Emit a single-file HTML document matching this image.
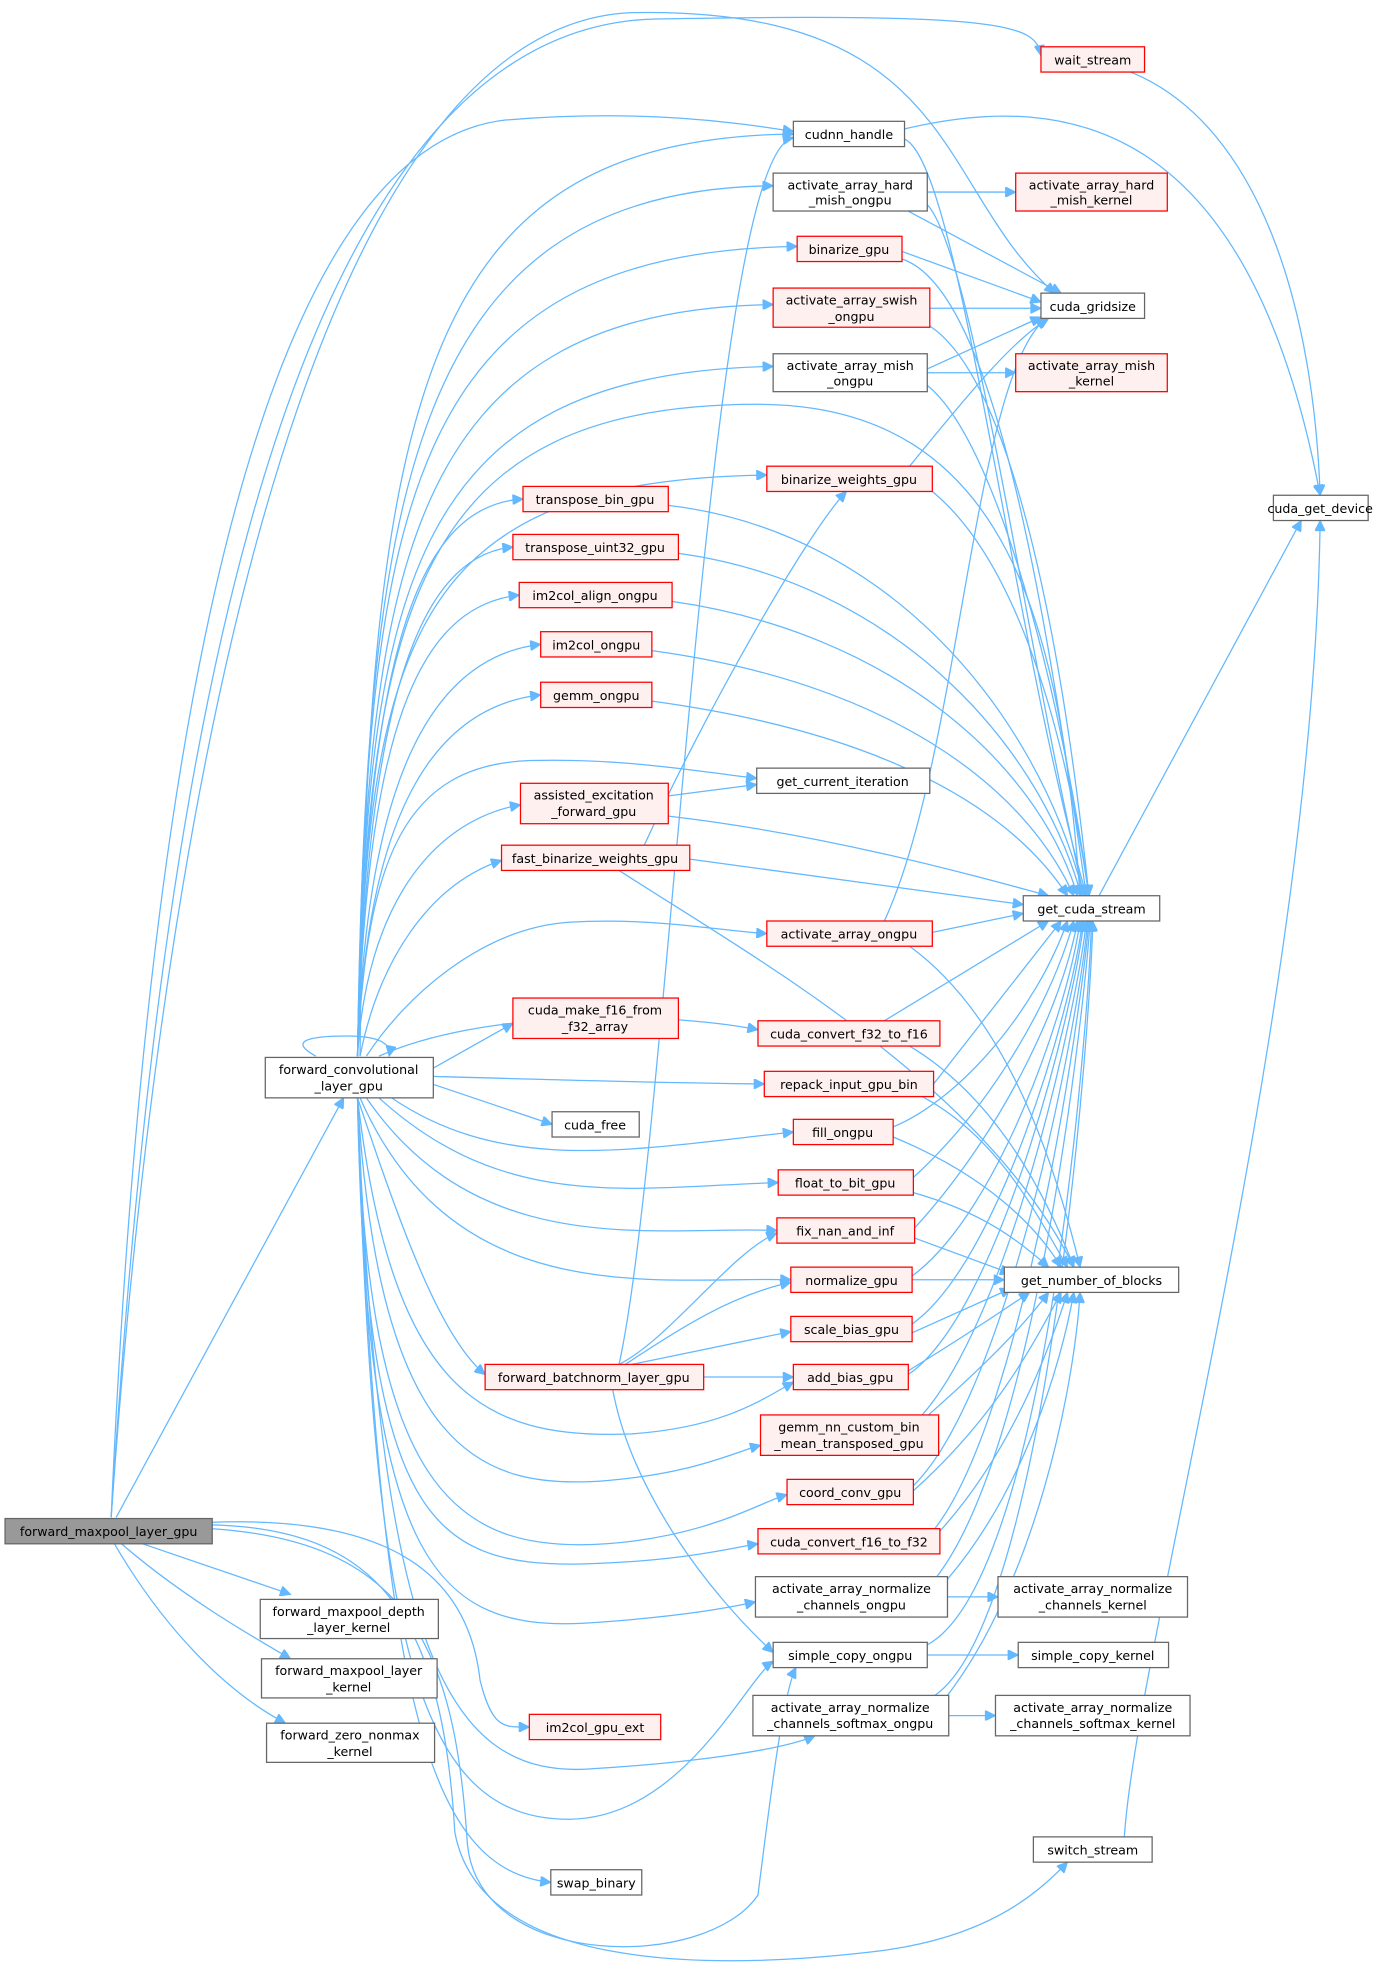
<!DOCTYPE html>
<html><head><meta charset="utf-8"><style>
html,body{margin:0;padding:0;background:#fff;}
svg{display:block}
text{font-family:"DejaVu Sans","Liberation Sans",sans-serif;font-size:10px;fill:#000;text-anchor:middle}
.n rect{fill:#fff;stroke:#666;stroke-width:1}
.r rect{fill:#fff0f0;stroke:#ff0000;stroke-width:1}
.g rect{fill:#999;stroke:#666;stroke-width:1}
path{fill:none;stroke:#63b8ff;stroke-width:1}
</style></head><body>
<svg width="1377" height="1986" viewBox="0 0 1090 1572" xmlns="http://www.w3.org/2000/svg">
<defs><marker id="a" viewBox="0 0 10 10" refX="10" refY="5" markerWidth="10" markerHeight="8" markerUnits="userSpaceOnUse" orient="auto"><path d="M0,0 L10,5 L0,10 z" style="fill:#63b8ff;stroke:#63b8ff"/></marker></defs>
<g marker-end="url(#a)">
<!-- maxpool edges -->
<path d="M88,1201 C120,700 200,20 520,15 C800,10 820,20 824,44"/>
<path d="M88,1201 C110,700 180,120 400,95 C520,85 600,100 628,104"/>
<path d="M88,1201 C130,600 250,20 500,10 C760,5 740,150 835,232"/>
<path d="M92,1201 L272,869"/>
<path d="M110,1221 L230,1262"/>
<path d="M95,1221 C140,1260 190,1290 230,1313"/>
<path d="M90,1221 C130,1290 180,1340 226,1364"/>
<path d="M167,1205 C300,1200 370,1240 380,1330 C390,1370 400,1367 419,1367"/>
<path d="M167,1207 C300,1210 350,1280 360,1450 C380,1560 560,1560 690,1545 C780,1535 820,1500 845,1474"/>
<path d="M167,1210 C320,1220 360,1300 370,1460 C380,1560 560,1560 600,1500 C610,1420 620,1340 630,1320"/>
<!-- FCL self loop -->
<path d="M250,836 C230,825 240,820 275,820 C300,820 310,826 308,836"/>
<!-- FCL to right nodes -->
<path d="M285,836 C290,300 340,110 628,106"/>
<path d="M283,836 C290,400 320,150 612,147"/>
<path d="M283,836 C290,400 320,200 631,195"/>
<path d="M283,836 C290,450 320,245 612,241"/>
<path d="M283,836 C290,470 320,295 612,290"/>
<path d="M283,836 C290,480 330,320 600,320 C800,320 840,500 855,709"/>
<path d="M283,836 C290,500 330,380 607,376"/>
<path d="M283,836 C290,550 320,400 414,395"/>
<path d="M283,836 C290,560 330,440 406,433"/>
<path d="M283,836 C290,580 330,480 411,471"/>
<path d="M283,836 C290,620 340,520 428,510"/>
<path d="M283,836 C290,650 340,560 428,550"/>
<path d="M283,836 C290,680 320,605 420,602 C500,600 560,612 599,616"/>
<path d="M283,836 C290,720 340,650 412,637"/>
<path d="M285,836 C300,760 340,700 397,681"/>
<path d="M290,836 C320,790 380,735 450,730 C520,726 570,737 607,739"/>
<path d="M300,836 C380,800 520,800 600,815"/>
<path d="M342,846 L406,810"/>
<path d="M342,852 C450,855 520,857 605,858"/>
<path d="M342,858 L437,890"/>
<path d="M310,869 C400,930 500,910 628,896"/>
<path d="M300,869 C400,960 500,940 616,936"/>
<path d="M290,869 C380,1000 520,970 615,974"/>
<path d="M285,869 C360,1040 520,1010 626,1013"/>
<path d="M283,869 C320,980 350,1060 384,1088"/>
<path d="M283,869 C310,1100 380,1140 500,1135 C570,1130 600,1110 628,1094"/>
<path d="M283,869 C300,1150 380,1180 480,1172 C550,1166 580,1150 602,1144"/>
<path d="M283,869 C290,1180 360,1230 480,1222 C560,1216 600,1190 623,1183"/>
<path d="M283,869 C290,1200 340,1240 460,1238 C540,1236 580,1225 600,1222"/>
<path d="M283,869 C290,1230 340,1290 460,1285 C540,1280 580,1272 598,1268"/>
<path d="M283,869 C300,1300 350,1410 470,1400 C550,1395 620,1385 645,1374"/>
<path d="M283,869 C295,1300 330,1440 450,1440 C540,1440 590,1330 612,1315"/>
<path d="M283,869 C300,1350 340,1480 436,1490"/>
<!-- batchnorm -->
<path d="M490,1080 C530,900 560,120 628,109"/>
<path d="M490,1080 C530,1060 580,990 615,976"/>
<path d="M495,1080 C540,1050 580,1025 626,1015"/>
<path d="M500,1080 L626,1054"/>
<path d="M557,1090 L628,1090"/>
<path d="M485,1100 C500,1180 560,1260 612,1308"/>
<path d="M510,669 C560,560 640,420 670,389"/>
<!-- to kernels -->
<path d="M734,152 L804,152"/>
<path d="M734,295 L804,295"/>
<path d="M750,1264 L790,1264"/>
<path d="M734,1310 L806,1310"/>
<path d="M751,1358 L788,1358"/>
<!-- to cuda_gridsize -->
<path d="M714,199 L824,239"/>
<path d="M736,244 L824,244"/>
<path d="M734,292 L824,251"/>
<path d="M720,369 C760,320 800,270 830,252"/>
<path d="M700,729 C760,600 770,300 828,252"/>
<path d="M715,165 L840,232"/>
<!-- cuda_get_device -->
<path d="M716,102 C850,70 990,100 1045,392"/>
<path d="M895,57 C1000,100 1040,250 1045,392"/>
<path d="M870,709 L1030,412"/>
<path d="M890,1454 C900,1300 1040,800 1045,412"/>
<!-- to get_cuda_stream -->
<path d="M716,110 C760,130 800,500 860,709"/>
<path d="M734,162 C770,200 810,500 858,709"/>
<path d="M714,205 C790,230 830,500 860,709"/>
<path d="M736,258 C800,300 840,500 862,709"/>
<path d="M734,305 C790,350 840,550 862,709"/>
<path d="M738,389 C800,440 840,560 862,709"/>
<path d="M529,400 C700,420 820,560 858,709"/>
<path d="M537,438 C700,460 820,580 856,709"/>
<path d="M532,476 C700,500 820,600 853,709"/>
<path d="M516,515 C700,540 810,620 850,709"/>
<path d="M516,555 C700,580 800,640 845,709"/>
<path d="M529,646 C650,660 760,690 830,709"/>
<path d="M546,680 L810,716"/>
<path d="M738,738 L810,723"/>
<path d="M700,808 L830,729"/>
<path d="M739,858 L840,729"/>
<path d="M707,892 C760,870 820,800 845,729"/>
<path d="M723,932 C780,880 830,800 850,729"/>
<path d="M724,972 C790,900 840,800 853,729"/>
<path d="M722,1010 C790,960 845,800 855,729"/>
<path d="M722,1048 C790,1000 848,800 857,729"/>
<path d="M719,1088 C790,1040 850,800 858,729"/>
<path d="M730,1120 C800,1040 852,800 860,729"/>
<path d="M723,1176 C800,1100 855,800 861,729"/>
<path d="M740,1210 C810,1120 856,800 862,729"/>
<path d="M740,1250 C820,1150 858,800 863,729"/>
<path d="M734,1302 C830,1250 862,800 864,729"/>
<path d="M740,1342 C830,1280 864,800 865,729"/>
<!-- to get_number_of_blocks -->
<path d="M490,689 C600,760 780,860 850,1003"/>
<path d="M720,749 C790,800 830,900 855,1003"/>
<path d="M720,828 C790,870 830,950 850,1003"/>
<path d="M730,868 C790,900 820,960 845,1003"/>
<path d="M707,900 C780,930 820,970 840,1003"/>
<path d="M723,944 C780,960 810,985 830,1003"/>
<path d="M724,980 L800,1008"/>
<path d="M722,1013 L795,1013"/>
<path d="M722,1055 L800,1020"/>
<path d="M719,1085 C760,1060 790,1040 815,1023"/>
<path d="M735,1120 C780,1080 810,1050 830,1023"/>
<path d="M723,1180 C790,1120 820,1060 840,1023"/>
<path d="M744,1212 C800,1150 830,1070 845,1023"/>
<path d="M750,1250 C810,1180 840,1080 850,1023"/>
<path d="M750,1342 C820,1250 850,1100 855,1023"/>
<path d="M612,620 L599,620"/>
<path d="M529,630 L599,621"/>
</g>
<!-- nodes -->
<g class="r"><rect x="824" y="37" width="82" height="20"/><text x="865" y="51">wait_stream</text></g>
<g class="n"><rect x="628" y="96" width="88" height="20"/><text x="672" y="110">cudnn_handle</text></g>
<g class="n"><rect x="612" y="137" width="122" height="30"/><text x="673" y="150">activate_array_hard</text><text x="673" y="162">_mish_ongpu</text></g>
<g class="r"><rect x="804" y="137" width="120" height="30"/><text x="864" y="150">activate_array_hard</text><text x="864" y="162">_mish_kernel</text></g>
<g class="r"><rect x="631" y="187" width="83" height="20"/><text x="672" y="201">binarize_gpu</text></g>
<g class="n"><rect x="824" y="232" width="82" height="20"/><text x="865" y="246">cuda_gridsize</text></g>
<g class="r"><rect x="612" y="228" width="124" height="31"/><text x="674" y="241">activate_array_swish</text><text x="674" y="254">_ongpu</text></g>
<g class="n"><rect x="612" y="280" width="122" height="30"/><text x="673" y="293">activate_array_mish</text><text x="673" y="305">_ongpu</text></g>
<g class="r"><rect x="804" y="280" width="120" height="30"/><text x="864" y="293">activate_array_mish</text><text x="864" y="305">_kernel</text></g>
<g class="n"><rect x="1008" y="392" width="75" height="20"/><text x="1045" y="406">cuda_get_device</text></g>
<g class="r"><rect x="607" y="369" width="131" height="20"/><text x="672" y="383">binarize_weights_gpu</text></g>
<g class="r"><rect x="414" y="385" width="115" height="20"/><text x="471" y="399">transpose_bin_gpu</text></g>
<g class="r"><rect x="406" y="423" width="131" height="20"/><text x="471" y="437">transpose_uint32_gpu</text></g>
<g class="r"><rect x="411" y="461" width="121" height="20"/><text x="471" y="475">im2col_align_ongpu</text></g>
<g class="r"><rect x="428" y="500" width="88" height="20"/><text x="472" y="514">im2col_ongpu</text></g>
<g class="r"><rect x="428" y="540" width="88" height="20"/><text x="472" y="554">gemm_ongpu</text></g>
<g class="n"><rect x="599" y="608" width="137" height="20"/><text x="667" y="622">get_current_iteration</text></g>
<g class="r"><rect x="412" y="620" width="117" height="32"/><text x="470" y="633">assisted_excitation</text><text x="470" y="646">_forward_gpu</text></g>
<g class="r"><rect x="397" y="669" width="149" height="20"/><text x="471" y="683">fast_binarize_weights_gpu</text></g>
<g class="n"><rect x="810" y="709" width="108" height="20"/><text x="864" y="723">get_cuda_stream</text></g>
<g class="r"><rect x="607" y="729" width="131" height="20"/><text x="672" y="743">activate_array_ongpu</text></g>
<g class="r"><rect x="406" y="790" width="131" height="32"/><text x="471" y="803">cuda_make_f16_from</text><text x="471" y="816">_f32_array</text></g>
<g class="r"><rect x="600" y="808" width="144" height="20"/><text x="672" y="822">cuda_convert_f32_to_f16</text></g>
<g class="n"><rect x="210" y="837" width="133" height="32"/><text x="276" y="850">forward_convolutional</text><text x="276" y="863">_layer_gpu</text></g>
<g class="r"><rect x="605" y="848" width="134" height="20"/><text x="672" y="862">repack_input_gpu_bin</text></g>
<g class="n"><rect x="437" y="880" width="69" height="20"/><text x="471" y="894">cuda_free</text></g>
<g class="r"><rect x="628" y="886" width="79" height="20"/><text x="667" y="900">fill_ongpu</text></g>
<g class="r"><rect x="616" y="926" width="107" height="20"/><text x="669" y="940">float_to_bit_gpu</text></g>
<g class="r"><rect x="615" y="964" width="109" height="20"/><text x="669" y="978">fix_nan_and_inf</text></g>
<g class="r"><rect x="626" y="1003" width="96" height="20"/><text x="674" y="1017">normalize_gpu</text></g>
<g class="n"><rect x="795" y="1003" width="138" height="20"/><text x="864" y="1017">get_number_of_blocks</text></g>
<g class="r"><rect x="626" y="1042" width="96" height="20"/><text x="674" y="1056">scale_bias_gpu</text></g>
<g class="r"><rect x="384" y="1080" width="173" height="20"/><text x="470" y="1094">forward_batchnorm_layer_gpu</text></g>
<g class="r"><rect x="628" y="1080" width="91" height="20"/><text x="673" y="1094">add_bias_gpu</text></g>
<g class="r"><rect x="602" y="1120" width="141" height="32"/><text x="672" y="1133">gemm_nn_custom_bin</text><text x="672" y="1146">_mean_transposed_gpu</text></g>
<g class="r"><rect x="623" y="1171" width="100" height="20"/><text x="673" y="1185">coord_conv_gpu</text></g>
<g class="g"><rect x="4" y="1202" width="164" height="20"/><text x="86" y="1216">forward_maxpool_layer_gpu</text></g>
<g class="r"><rect x="600" y="1210" width="144" height="20"/><text x="672" y="1224">cuda_convert_f16_to_f32</text></g>
<g class="n"><rect x="598" y="1248" width="152" height="32"/><text x="674" y="1261">activate_array_normalize</text><text x="674" y="1274">_channels_ongpu</text></g>
<g class="n"><rect x="790" y="1248" width="150" height="32"/><text x="865" y="1261">activate_array_normalize</text><text x="865" y="1274">_channels_kernel</text></g>
<g class="n"><rect x="612" y="1300" width="122" height="20"/><text x="673" y="1314">simple_copy_ongpu</text></g>
<g class="n"><rect x="806" y="1300" width="119" height="20"/><text x="865" y="1314">simple_copy_kernel</text></g>
<g class="n"><rect x="206" y="1266" width="141" height="31"/><text x="276" y="1279">forward_maxpool_depth</text><text x="276" y="1292">_layer_kernel</text></g>
<g class="n"><rect x="207" y="1313" width="139" height="31"/><text x="276" y="1326">forward_maxpool_layer</text><text x="276" y="1339">_kernel</text></g>
<g class="n"><rect x="596" y="1342" width="155" height="32"/><text x="673" y="1355">activate_array_normalize</text><text x="673" y="1368">_channels_softmax_ongpu</text></g>
<g class="n"><rect x="788" y="1342" width="154" height="32"/><text x="865" y="1355">activate_array_normalize</text><text x="865" y="1368">_channels_softmax_kernel</text></g>
<g class="r"><rect x="419" y="1357" width="104" height="20"/><text x="471" y="1371">im2col_gpu_ext</text></g>
<g class="n"><rect x="211" y="1364" width="133" height="31"/><text x="277" y="1377">forward_zero_nonmax</text><text x="277" y="1390">_kernel</text></g>
<g class="n"><rect x="818" y="1454" width="94" height="20"/><text x="865" y="1468">switch_stream</text></g>
<g class="n"><rect x="436" y="1480" width="72" height="20"/><text x="472" y="1494">swap_binary</text></g>
</svg>
</body></html>
